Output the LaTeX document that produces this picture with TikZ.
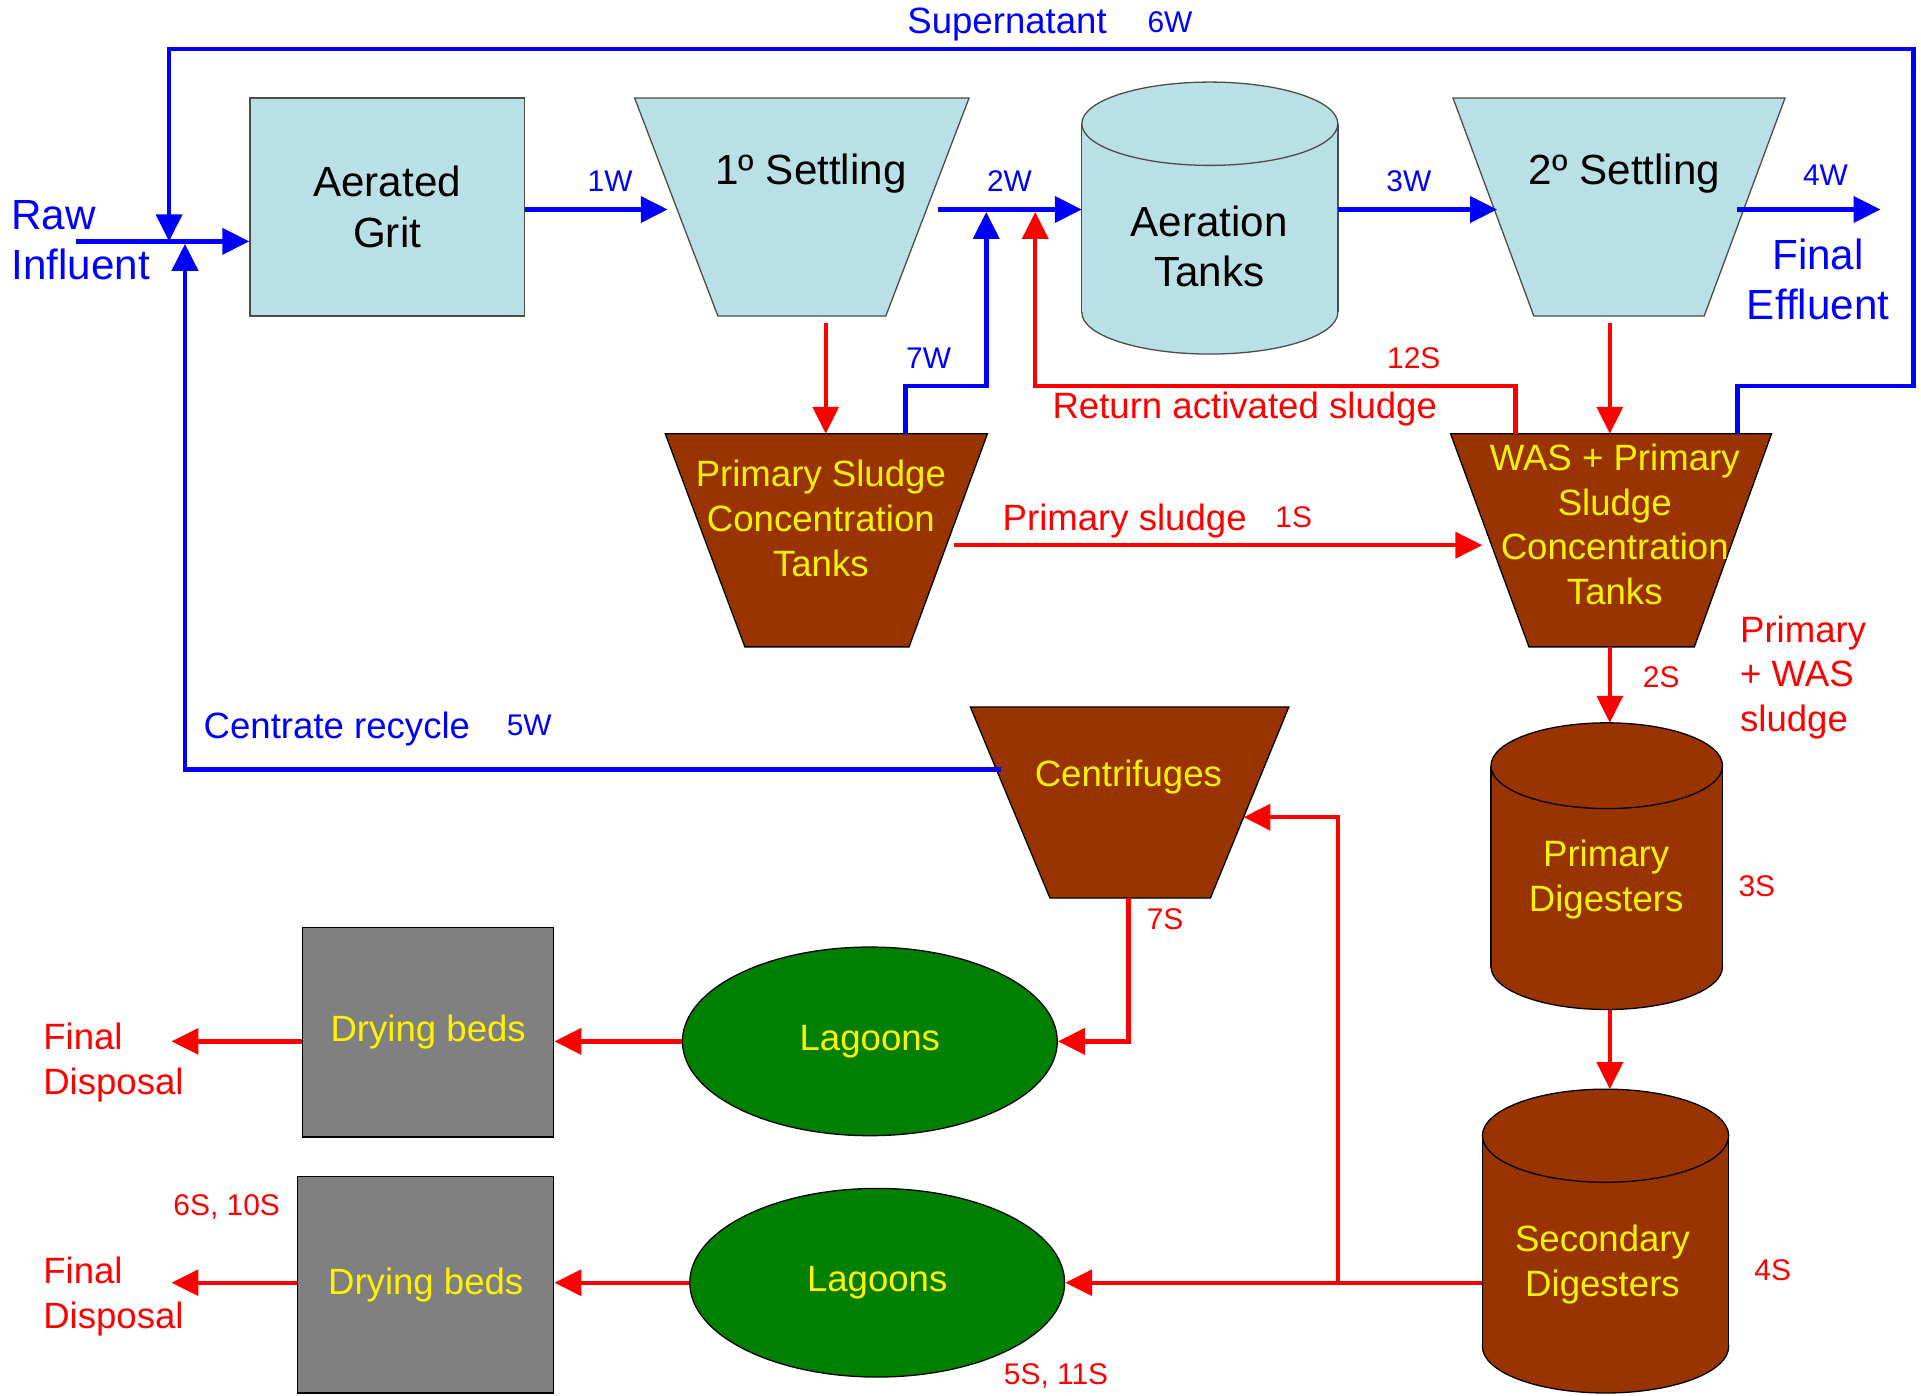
\documentclass[tikz,border=0pt]{standalone}
\usepackage{fontspec}
\setmainfont{Liberation Sans}
\usetikzlibrary{arrows.meta, shapes.geometric, positioning}

\definecolor{tankblue}{RGB}{185,224,228}
\definecolor{sludgebrown}{RGB}{153,51,0}
\definecolor{lagoongreen}{RGB}{0,128,0}
\definecolor{bedgray}{RGB}{128,128,128}

\begin{document}
\begin{tikzpicture}[x=0.02cm, y=-0.02cm,
    >={Triangle[length=0.44cm, width=0.42cm]},
    bigtxt/.style={font=\fontsize{19.6}{23.4}\selectfont, align=center, inner sep=0pt},
    midtxt/.style={font=\fontsize{17}{20.8}\selectfont, align=center, inner sep=0pt},
    tagtxt/.style={font=\fontsize{13.9}{16}\selectfont, inner sep=0pt},
    cleartank/.style={draw=black!70, line width=0.6pt, fill=tankblue},
    sludgetank/.style={draw=black, line width=0.6pt, fill=sludgebrown},
    unit/.style={cleartank, rectangle, bigtxt},
    bed/.style={draw=black, line width=0.6pt, fill=bedgray, rectangle,
                midtxt, text=yellow},
    lagoon/.style={draw=black, line width=0.6pt, fill=lagoongreen, ellipse,
                   minimum width=6.12cm, minimum height=3.08cm,
                   midtxt, text=yellow},
    water/.style={draw=blue, line width=2.2pt},
    sludgeline/.style={draw=red, line width=2pt}
  ]
  \useasboundingbox (0,0) rectangle (1568,1139);

  % liquid train
  \node[unit, minimum width=4.48cm, minimum height=3.56cm] (grit) at (316,169) {Aerated\\Grit};
  \filldraw[cleartank] (518,80) -- (791,80) -- (723,258) -- (586,258) -- cycle;
  \node[bigtxt] (set1) at (662,142) {1º Settling};

  \filldraw[cleartank] (987.5,255) ellipse [x radius=104.5, y radius=34];
  \fill[tankblue] (883,101) rectangle (1092,255);
  \draw[cleartank] (883,101) -- (883,255) (1092,101) -- (1092,255);
  \filldraw[cleartank] (987.5,101) ellipse [x radius=104.5, y radius=34];
  \node[bigtxt] (aer) at (987,201) {Aeration\\Tanks};

  \filldraw[cleartank] (1186,80) -- (1457,80) -- (1391,258) -- (1252,258) -- cycle;
  \node[bigtxt] (set2) at (1326,142) {2º Settling};

  % sludge train
  \filldraw[sludgetank] (543,354) -- (806,354) -- (742,528) -- (608,528) -- cycle;
  \node[midtxt, text=yellow] (pst) at (670,423) {Primary Sludge\\Concentration\\Tanks};
  \filldraw[sludgetank] (1184,354) -- (1446,354) -- (1383,528) -- (1248,528) -- cycle;
  \node[midtxt, text=yellow] (wst) at (1318,428) {WAS + Primary\\Sludge\\Concentration\\Tanks};
  \filldraw[sludgetank] (792,577) -- (1052,577) -- (988,733) -- (857,733) -- cycle;
  \node[midtxt, text=yellow] (cen) at (921,634) {Centrifuges};

  \filldraw[sludgetank] (1311.5,789) ellipse [x radius=94.5, y radius=35];
  \fill[sludgebrown] (1217,625) rectangle (1406,789);
  \draw[sludgetank] (1217,625) -- (1217,789) (1406,625) -- (1406,789);
  \filldraw[sludgetank] (1311.5,625) ellipse [x radius=94.5, y radius=35];
  \node[midtxt, text=yellow] (pdig) at (1311,718) {Primary\\Digesters};

  \filldraw[sludgetank] (1310.5,1099) ellipse [x radius=100.5, y radius=38];
  \fill[sludgebrown] (1210,927) rectangle (1411,1099);
  \draw[sludgetank] (1210,927) -- (1210,1099) (1411,927) -- (1411,1099);
  \filldraw[sludgetank] (1310.5,927) ellipse [x radius=100.5, y radius=38];
  \node[midtxt, text=yellow] (sdig) at (1308,1032) {Secondary\\Digesters};

  \node[lagoon] (lag1) at (710,850) {Lagoons};
  \node[lagoon] (lag2) at (716,1047) {Lagoons};
  \node[bed, minimum width=4.1cm, minimum height=3.42cm] (bed1) at (349.5,842.5) {Drying beds};
  \node[bed, minimum width=4.18cm, minimum height=3.54cm] (bed2) at (347.5,1048.5) {Drying beds};

  % connection points
  \coordinate (raw) at (62,197);
  \coordinate (mix-top) at (138,197);
  \coordinate (mix-bot) at (151,199);
  \coordinate (sup-ne) at (1562,40);
  \coordinate (set1-in) at (545,171);
  \coordinate (set1-out) at (766,171);
  \coordinate (aer-in) at (883,171);
  \coordinate (aer-out) at (1092,171);
  \coordinate (set2-in) at (1222,171);
  \coordinate (set2-out) at (1418,171);
  \coordinate (eff) at (1535,171);
  \coordinate (join7w) at (805,173);
  \coordinate (joinras) at (845,173);
  \coordinate (set1-bot) at (674,264);
  \coordinate (pst-in) at (674,354);
  \coordinate (pst-top) at (739,354);
  \coordinate (pst-out) at (779,445);
  \coordinate (set2-bot) at (1314,264);
  \coordinate (wst-in) at (1314,354);
  \coordinate (wst-ras) at (1237,354);
  \coordinate (wst-sup) at (1418,354);
  \coordinate (wst-side) at (1210,445);
  \coordinate (wst-bot) at (1314,528);
  \coordinate (pdig-top) at (1314,590);
  \coordinate (pdig-bot) at (1314,824);
  \coordinate (sdig-top) at (1314,889);
  \coordinate (sdig-out) at (1210,1047);
  \coordinate (split) at (1092,1047);
  \coordinate (cen-in) at (1015,667);
  \coordinate (cen-out) at (817,628);
  \coordinate (cen-bot) at (921,733);
  \coordinate (disp1) at (140,850);
  \coordinate (disp2) at (140,1047);

  % water lines
  \draw[water, ->] (raw) -- (raw -| grit.west);
  \draw[water, ->] (wst-sup) -- ++(0,-39) -| (sup-ne) -| (mix-top);
  \draw[water, ->] (cen-out) -| (mix-bot);
  \draw[water, ->] (grit.east |- set1-in) -- (set1-in);
  \draw[water, ->] (set1-out) -- (aer-in);
  \draw[water, ->] (pst-top) -- ++(0,-39) -| (join7w);
  \draw[water, ->] (aer-out) -- (set2-in);
  \draw[water, ->] (set2-out) -- (eff);

  % sludge lines
  \draw[sludgeline, ->] (wst-ras) -- ++(0,-39) -| (joinras);
  \draw[sludgeline, ->] (set1-bot) -- (pst-in);
  \draw[sludgeline, ->] (set2-bot) -- (wst-in);
  \draw[sludgeline, ->] (pst-out) -- (wst-side);
  \draw[sludgeline, ->] (wst-bot) -- (pdig-top);
  \draw[sludgeline, ->] (pdig-bot) -- (sdig-top);
  \draw[sludgeline, ->] (sdig-out) -- (lag2.east);
  \draw[sludgeline, ->] (split) |- (cen-in);
  \draw[sludgeline, ->] (cen-bot) |- (lag1.east);
  \draw[sludgeline, ->] (lag1.west) -- (lag1.west -| bed1.east);
  \draw[sludgeline, ->] (lag2.west) -- (lag2.west -| bed2.east);
  \draw[sludgeline, ->] (lag1.west -| bed1.west) -- (disp1);
  \draw[sludgeline, ->] (lag2.west -| bed2.west) -- (disp2);

  % labels
  \node[bigtxt, text=blue, anchor=west, align=left] (rawlbl) at (9,196) {Raw\\Influent};
  \node[midtxt, text=blue] (suplbl) at (822,20) {Supernatant};
  \node[tagtxt, text=blue] (w6) at (955,18) {6W};
  \node[tagtxt, text=blue] (w1) at (498,148) {1W};
  \node[tagtxt, text=blue] (w2) at (824,148) {2W};
  \node[tagtxt, text=blue] (w3) at (1150,148) {3W};
  \node[tagtxt, text=blue] (w4) at (1490,143) {4W};
  \node[bigtxt, text=blue] (efflbl) at (1484,228) {Final\\Effluent};
  \node[tagtxt, text=blue] (w7) at (758,292) {7W};
  \node[midtxt, text=blue] (centlbl) at (275,595) {Centrate recycle};
  \node[tagtxt, text=blue] (w5) at (432,592) {5W};

  \node[tagtxt, text=red] (s12) at (1154,292) {12S};
  \node[midtxt, text=red] (raslbl) at (1016,334) {Return activated sludge};
  \node[midtxt, text=red] (pslbl) at (918,425) {Primary sludge};
  \node[tagtxt, text=red] (s1) at (1056,422) {1S};
  \node[tagtxt, text=red] (s2) at (1356,553) {2S};
  \node[midtxt, text=red, anchor=west, align=left] (mixlbl) at (1420,553) {Primary\\+ WAS\\sludge};
  \node[tagtxt, text=red] (s3) at (1434,723) {3S};
  \node[tagtxt, text=red] (s4) at (1447,1037) {4S};
  \node[tagtxt, text=red] (s7) at (951,750) {7S};
  \node[tagtxt, text=red] (s6) at (185,985) {6S, 10S};
  \node[tagtxt, text=red] (s5) at (862,1123) {5S, 11S};
  \node[midtxt, text=red, anchor=west, align=left] (disp1lbl) at (35,867) {Final\\Disposal};
  \node[midtxt, text=red, anchor=west, align=left] (disp2lbl) at (35,1058) {Final\\Disposal};
\end{tikzpicture}
\end{document}
